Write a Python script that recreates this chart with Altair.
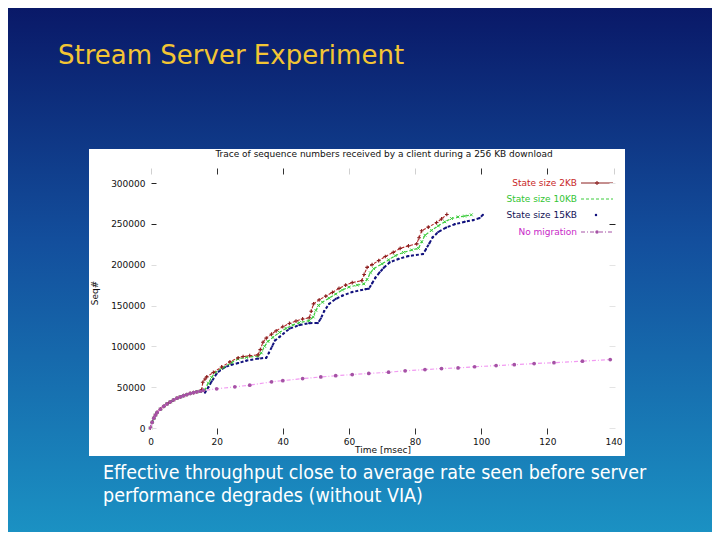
import altair as alt
import pandas as pd

W, H = 704, 524

# ---------------- data ----------------
red_t = [0, 0.5, 1, 1.5, 2, 3, 4, 5, 6, 7, 8, 9, 10, 11, 12, 13, 14, 15,
         15.5, 15.8, 16.5, 17, 19, 21.5, 24, 26.5, 28, 30, 32.5,
         33.2, 34, 35, 36.6, 38, 40, 42, 44, 46, 48,
         48.6, 49.3, 51, 53, 55, 57, 59, 61, 63.9,
         64.6, 65.5, 67, 69, 71, 73.4, 75.5, 78, 80.5,
         81.2, 82, 84, 86.5, 88, 89.6]
red_v = [0, 7000, 12000, 15800, 19000, 23000, 26500, 29500, 32000, 34500, 36500, 38000, 39500, 41000, 42300, 43300, 44300, 45000,
         47000, 56000, 60000, 62600, 68000, 74700, 81000, 86000, 87500, 88500, 89500,
         96000, 105000, 110000, 115000, 119000, 124000, 128000, 131000, 133500, 135000,
         143000, 152000, 157000, 161500, 166000, 171000, 175000, 178000, 180500,
         188000, 196700, 200000, 205000, 210000, 215000, 220000, 223000, 225500,
         233000, 241500, 246000, 251600, 256000, 261500]

green_t = [0, 0.5, 1, 1.5, 2, 3, 4, 5, 6, 7, 8, 9, 10, 11, 12, 13, 14, 15,
           16.5, 17.5, 18.5, 19.5, 22, 24.5, 26.5, 29, 32.6,
           33.5, 34.5, 35.5, 37, 39, 41, 43, 45, 48,
           49.2, 50, 50.8, 52, 54, 56, 58, 60, 62.5, 64.5,
           65.5, 66.5, 67.5, 70, 72, 74, 76.5, 79, 81,
           82, 83, 85, 87, 89, 91, 93, 95, 97]
green_v = [0, 7000, 12000, 15800, 19000, 23000, 26500, 29500, 32000, 34500, 36500, 38000, 39500, 41000, 42300, 43300, 44300, 45000,
           47000, 55000, 62000, 68000, 74000, 80000, 84500, 86500, 88000,
           92000, 100000, 106000, 111000, 117000, 122000, 126000, 129000, 131500,
           136000, 144000, 150000, 154000, 159000, 164000, 169000, 172500, 175000, 176500,
           182000, 190000, 195000, 201000, 206000, 211000, 215000, 218000, 220000,
           228000, 236000, 242000, 247500, 252500, 256500, 258500, 259500, 261000]

blue_t = [0, 0.5, 1, 1.5, 2, 3, 4, 5, 6, 7, 8, 9, 10, 11, 12, 13, 14, 15,
          16.5, 17.5, 18.5, 20, 21, 22.5, 24.5, 26.5, 29, 32.6, 35,
          35.8, 36.8, 37.6, 39, 42, 45, 48, 50.6,
          51.5, 52.5, 54, 56, 58, 61, 65, 66,
          67, 68, 69.3, 70.5, 72.3, 75, 78, 82.4,
          83.3, 84.3, 85.3, 87, 89.4, 92, 95, 97.5, 99.5, 100.5]
blue_v = [0, 7000, 12000, 15800, 19000, 23000, 26500, 29500, 32000, 34500, 36500, 38000, 39500, 41000, 42300, 43300, 44300, 45000,
          43500, 50000, 57000, 66700, 70500, 74500, 77500, 79500, 82500, 85000, 86000,
          92000, 100000, 107000, 111500, 121600, 126000, 128400, 128500,
          134000, 143000, 152000, 158000, 162000, 166500, 170000, 170500,
          177000, 184000, 190600, 196000, 202800, 207000, 210500, 213000,
          219000, 226000, 233300, 240000, 245500, 249500, 252500, 254500, 257000, 261000]

mag_t = [0, 0.5, 1, 1.5, 2, 3, 4, 5, 6, 7, 8, 9, 10, 11, 12, 13, 14, 15,
         16, 20, 25.5, 30, 36.6, 40, 46, 51.5, 56, 61,
         66, 72, 77, 83, 88, 93, 98, 104.5, 110, 116,
         122, 130.6, 139]
mag_v = [0, 7000, 12000, 15800, 19000, 23000, 26500, 29500, 32000, 34500, 36500, 38000, 39500, 41000, 42300, 43300, 44300, 45000,
         46000, 48000, 50400, 52500, 56500, 58000, 60500, 62500, 64000, 65400,
         66800, 68300, 70000, 71500, 72800, 73600, 75000, 76400, 77500, 78900,
         80000, 81800, 83800]

series_names = ["State size 2KB", "State size 10KB", "State size 15KB", "No migration"]
x_ticks = [0, 20, 40, 60, 80, 100, 120, 140]
y_ticks = [0, 50000, 100000, 150000, 200000, 250000, 300000]

slide_title = "Stream Server Experiment"
plot_title = "Trace of sequence numbers received by a client during a 256 KB download"
x_title = "Time [msec]"
y_title = "Seq#"
caption = ["Effective throughput close to average rate seen before server",
           "performance degrades (without VIA)"]

# ---------------- styles ----------------
RED, RED_M, RED_T = "#b52a2a", "#8a1e1e", "#c82828"
GREEN, GREEN_T = "#3ccc3c", "#33c433"
BLUE, BLUE_T = "#12127e", "#121255"
MAG, MAG_M, MAG_T = "#f29af2", "#a552a5", "#c828c8"
FONT = "DejaVu Sans"

xs = alt.Scale(domain=[0, 140], range=[142.5, 605.5])
ys = alt.Scale(domain=[0, 300000], range=[420, 175])
X = alt.X("t:Q", scale=xs, axis=None)
Y = alt.Y("v:Q", scale=ys, axis=None)


def one():
    return pd.DataFrame({"k": [0]})


def text_layer(s, x, y, size, color, font=FONT, align="left", angle=0, baseline="middle"):
    return alt.Chart(pd.DataFrame({"s": [s]})).mark_text(
        align=align, baseline=baseline, font=font, fontSize=size, color=color, angle=angle
    ).encode(x=alt.value(x), y=alt.value(y), text="s:N")


layers = []

# slide background
layers.append(alt.Chart(one()).mark_rect(
    fill=alt.Gradient(gradient="linear",
                      stops=[alt.GradientStop(offset=0, color="#091766"),
                             alt.GradientStop(offset=0.45, color="#134f9d"),
                             alt.GradientStop(offset=1, color="#1b93c4")],
                      x1=0, x2=0, y1=0, y2=1)
).encode(x=alt.value(-8), x2=alt.value(W + 8), y=alt.value(-8), y2=alt.value(H + 8)))

# white picture box
layers.append(alt.Chart(one()).mark_rect(fill="white").encode(
    x=alt.value(81), x2=alt.value(617), y=alt.value(141), y2=alt.value(448)))

# axes carriers (zindex=1 so they are drawn above the background rectangles)
lab = dict(labelFont=FONT, labelFontSize=9, labelColor="#111", domain=False, grid=False, zindex=1,
           labelFlush=False, labelOverlap=False)
layers.append(alt.Chart(pd.DataFrame({"t": x_ticks})).mark_point(opacity=0).encode(
    x=alt.X("t:Q", scale=xs, title=None,
            axis=alt.Axis(orient="bottom", offset=-104, values=x_ticks, tickSize=6, labelPadding=3,
                          tickColor={"condition": {"test": "datum.value == 0 || datum.value == 140", "value": "#ffffff"},
                                     "value": "#333333"}, **lab)),
    y=alt.value(300)))
layers.append(alt.Chart(pd.DataFrame({"t": x_ticks})).mark_point(opacity=0).encode(
    x=alt.X("t:Q", scale=xs, title=None,
            axis=alt.Axis(orient="top", offset=-166, values=x_ticks, tickSize=6, labels=False, zindex=1,
                          tickColor={"condition": {"test": "datum.value == 60 || datum.value == 80 || datum.value == 0 || datum.value == 140", "value": "#d0d0d0"},
                                     "value": "#333333"}, domain=False, grid=False)),
    y=alt.value(300)))
layers.append(alt.Chart(pd.DataFrame({"v": y_ticks})).mark_point(opacity=0).encode(
    y=alt.Y("v:Q", scale=ys, title=None,
            axis=alt.Axis(orient="left", offset=-148, values=y_ticks, tickSize=5, labelPadding=6, format="d",
                          tickColor={"condition": {"test": "datum.value >= 250000", "value": "#222222"},
                                     "value": "#dddddd"}, **lab)),
    x=alt.value(300)))
layers.append(alt.Chart(pd.DataFrame({"v": y_ticks})).mark_point(opacity=0).encode(
    y=alt.Y("v:Q", scale=ys, title=None,
            axis=alt.Axis(orient="right", offset=-103, values=y_ticks, tickSize=6, labels=False, zindex=1,
                          tickColor={"condition": {"test": "datum.value == 250000", "value": "#222222"},
                                     "value": "#e4e4e4"}, domain=False, grid=False)),
    x=alt.value(300)))

# series
def d(t, v):
    return pd.DataFrame({"t": t, "v": v})

layers.append(alt.Chart(d(blue_t, blue_v)).mark_line(color=BLUE, strokeWidth=2, strokeDash=[3, 2]).encode(x=X, y=Y))
layers.append(alt.Chart(d(blue_t, blue_v)).mark_point(color=BLUE, filled=True, size=5, opacity=1).encode(x=X, y=Y))
layers.append(alt.Chart(d(green_t, green_v)).mark_line(color=GREEN, strokeWidth=1.2, strokeDash=[3, 2]).encode(x=X, y=Y))
layers.append(alt.Chart(d(green_t, green_v)).mark_point(color=GREEN, shape="M-1,-1L1,1M-1,1L1,-1", filled=False,
                                                        size=8, strokeWidth=1, opacity=1).encode(x=X, y=Y))
layers.append(alt.Chart(d(red_t, red_v)).mark_line(color=RED, strokeWidth=1.1, strokeDash=[3, 1.5]).encode(x=X, y=Y))
layers.append(alt.Chart(d(red_t, red_v)).mark_point(color=RED_M, shape="M-1,0L1,0M0,-1L0,1", filled=False,
                                                    size=14, strokeWidth=1.1, opacity=1).encode(x=X, y=Y))
layers.append(alt.Chart(d(mag_t, mag_v)).mark_line(color=MAG, strokeWidth=1.2, strokeDash=[4, 2, 1, 2]).encode(x=X, y=Y))
layers.append(alt.Chart(d(mag_t, mag_v)).mark_point(color=MAG_M, filled=True, size=14, opacity=1).encode(x=X, y=Y))

# legend (gnuplot style: label right-aligned, sample to the right)
leg_y = [175, 191, 207, 224]
leg_col = [RED_T, GREEN_T, BLUE_T, MAG_T]
for i, name in enumerate(series_names):
    layers.append(text_layer(name, 569, leg_y[i], 9, leg_col[i], align="right"))
layers.append(alt.Chart(one()).mark_rule(color=RED_M, strokeWidth=1).encode(
    x=alt.value(573), x2=alt.value(605), y=alt.value(leg_y[0])))
layers.append(alt.Chart(one()).mark_point(color=RED_M, shape="M-1,0L1,0M0,-1L0,1", filled=False, size=14).encode(
    x=alt.value(589), y=alt.value(leg_y[0])))
layers.append(alt.Chart(one()).mark_rule(color=GREEN, strokeWidth=1, strokeDash=[3, 2]).encode(
    x=alt.value(573), x2=alt.value(605), y=alt.value(leg_y[1])))
layers.append(alt.Chart(one()).mark_point(color=BLUE, filled=True, size=6, opacity=1).encode(
    x=alt.value(588), y=alt.value(leg_y[2])))
layers.append(alt.Chart(one()).mark_rule(color=MAG_M, strokeWidth=1, strokeDash=[4, 2, 1, 2]).encode(
    x=alt.value(573), x2=alt.value(605), y=alt.value(leg_y[3])))
layers.append(alt.Chart(one()).mark_point(color=MAG_M, filled=True, size=12, opacity=1).encode(
    x=alt.value(589), y=alt.value(leg_y[3])))

# plot texts
layers.append(text_layer(plot_title, 376, 146, 9, "#111", align="center"))
layers.append(text_layer(x_title, 375, 442, 9, "#111", align="center"))
layers.append(text_layer(y_title, 87, 285, 9, "#111", align="center", angle=270))

# slide texts
layers.append(text_layer(slide_title, 50, 55.5, 26, "#f3c534", baseline="alphabetic"))
cap_font = "DejaVu Sans Condensed, Liberation Sans, sans-serif"
layers.append(text_layer(caption[0], 95, 471, 19.5, "white", font=cap_font, baseline="alphabetic"))
layers.append(text_layer(caption[1], 95, 494, 19.5, "white", font=cap_font, baseline="alphabetic"))

chart = alt.layer(*layers).resolve_axis(x="independent", y="independent").properties(
    width=W, height=H, autosize=alt.AutoSizeParams(type="none"), padding=0, background="#091766"
).configure_view(stroke="transparent")

chart.save("out.html", embed_options={"renderer": "svg", "actions": False})
